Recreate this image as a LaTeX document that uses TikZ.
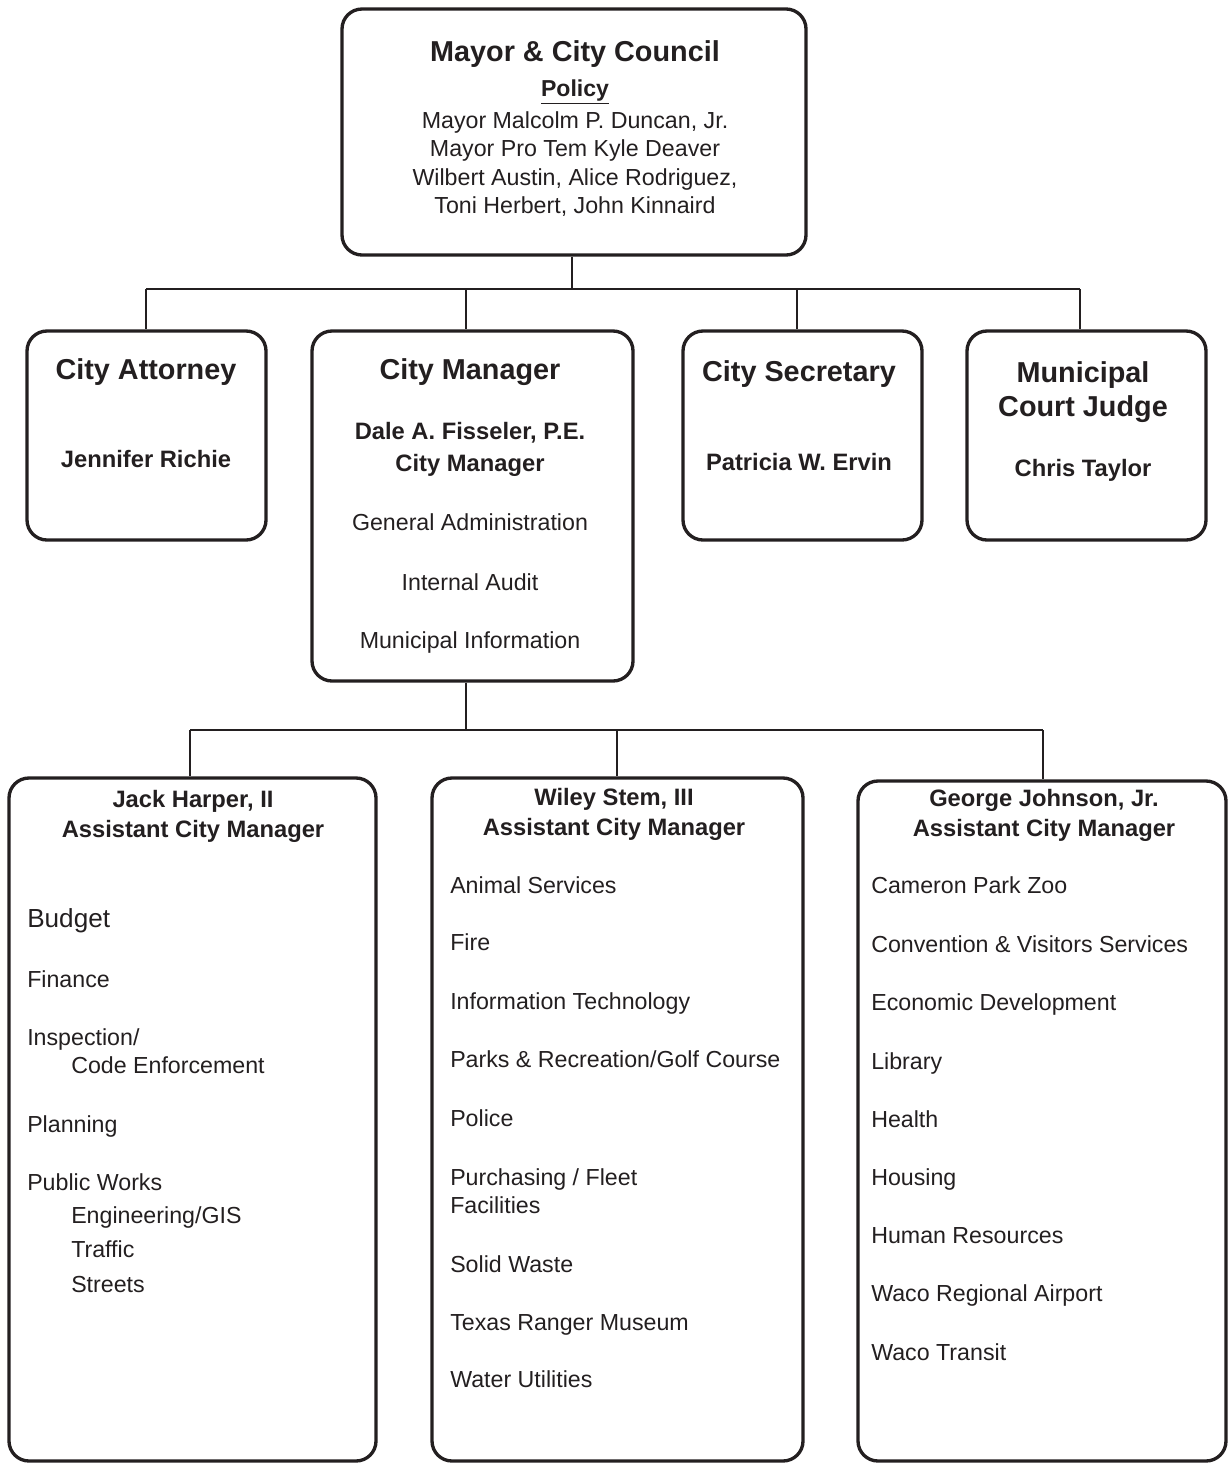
\documentclass[tikz,border=0pt]{standalone}
\usepackage{fontspec}
\setmainfont{Liberation Sans}
\usetikzlibrary{fit}
\definecolor{ink}{RGB}{35,31,32}
\tikzset{
unitbox/.style={draw=ink, line width=2.5pt, rounded corners=15pt, inner sep=0pt},
link/.style={draw=ink, line width=1.6pt},
headtxt/.style={font=\fontsize{21.6}{26}\selectfont\bfseries, text=ink, anchor=base, inner sep=0pt},
nametxt/.style={font=\fontsize{17.8}{21}\selectfont\bfseries, text=ink, anchor=base, inner sep=0pt},
bodytxt/.style={font=\fontsize{17.4}{21}\selectfont, text=ink, anchor=base, inner sep=0pt},
itemtxt/.style={bodytxt, anchor=base west}}

\begin{document}
\begin{tikzpicture}[x=0.75pt,y=0.75pt,yscale=-1,xscale=1]
\useasboundingbox (0,0) rectangle (1228,1463);

%Shape: Rounded Rect [council]
\node[unitbox, fit={(342,9) (806,255)}] (council) {};
%Shape: Rounded Rect [attorney]
\node[unitbox, fit={(27,331) (266,540)}] (attorney) {};
%Shape: Rounded Rect [manager]
\node[unitbox, fit={(312,331) (633,681)}] (manager) {};
%Shape: Rounded Rect [secretary]
\node[unitbox, fit={(683,331) (922,540)}] (secretary) {};
%Shape: Rounded Rect [judge]
\node[unitbox, fit={(967,331) (1206,540)}] (judge) {};
%Shape: Rounded Rect [harper]
\node[unitbox, fit={(9,778) (376,1461)}] (harper) {};
%Shape: Rounded Rect [stem]
\node[unitbox, fit={(432,778) (803,1461)}] (stem) {};
%Shape: Rounded Rect [johnson]
\node[unitbox, fit={(858,781) (1226,1461)}] (johnson) {};

%Straight Lines: council to first row
\coordinate (busTop) at (572,289);
\coordinate (tAtt) at (146,289);
\coordinate (tMan) at (466,289);
\coordinate (tSec) at (797,289);
\coordinate (tJud) at (1080,289);
\draw[link] (council.south -| busTop) -- (busTop);
\draw[link] (tAtt) -- (tJud);
\draw[link] (tAtt) -- (tAtt |- attorney.north);
\draw[link] (tMan) -- (tMan |- manager.north);
\draw[link] (tSec) -- (tSec |- secretary.north);
\draw[link] (tJud) -- (tJud |- judge.north);

%Straight Lines: manager to assistants
\coordinate (busLow) at (466,730);
\coordinate (tHar) at (190,730);
\coordinate (tSte) at (617,730);
\coordinate (tJoh) at (1043,730);
\draw[link] (manager.south -| busLow) -- (busLow);
\draw[link] (tHar) -- (tJoh);
\draw[link] (tHar) -- (tHar |- harper.north);
\draw[link] (tSte) -- (tSte |- stem.north);
\draw[link] (tJoh) -- (tJoh |- johnson.north);

% Text Node
\node[headtxt] (councilHead) at (575,62) {Mayor \& City Council};
\node[bodytxt, font=\fontsize{17.3}{21}\selectfont\bfseries] (councilPolicy) at (575,96.5) {\underline{Policy}};
\node[bodytxt] (councilA) at (575,128.3) {Mayor Malcolm P. Duncan, Jr.};
\node[bodytxt] (councilB) at (575,156.8) {Mayor Pro Tem Kyle Deaver};
\node[bodytxt] (councilC) at (575,185.2) {Wilbert Austin, Alice Rodriguez,};
\node[bodytxt] (councilD) at (575,213.6) {Toni Herbert, John Kinnaird};

% Text Node
\node[headtxt] (attorneyHead) at (146,379.3) {City Attorney};
\node[nametxt] (attorneyName) at (146,467) {Jennifer Richie};

% Text Node
\node[headtxt] (managerHead) at (470,379.3) {City Manager};
\node[nametxt] (managerName) at (470,439) {Dale A. Fisseler, P.E.};
\node[nametxt] (managerRole) at (470,471.7) {City Manager};
\node[bodytxt] (managerA) at (470,530.7) {General Administration};
\node[bodytxt] (managerB) at (470,590) {Internal Audit};
\node[bodytxt] (managerC) at (470,648.3) {Municipal Information};

% Text Node
\node[headtxt] (secretaryHead) at (799,381.7) {City Secretary};
\node[nametxt] (secretaryName) at (799,470) {Patricia W. Ervin};

% Text Node
\node[headtxt] (judgeHeadA) at (1083,382.7) {Municipal};
\node[headtxt] (judgeHeadB) at (1083,416) {Court Judge};
\node[nametxt] (judgeName) at (1083,476) {Chris Taylor};

% Text Node
\node[nametxt] (harperName) at (193,807.7) {Jack Harper, II};
\node[nametxt] (harperRole) at (193,837.3) {Assistant City Manager};
\node[itemtxt, font=\fontsize{19.6}{23}\selectfont] (harperA) at (27,927) {Budget};
\node[itemtxt] (harperB) at (27,987) {Finance};
\node[itemtxt] (harperC) at (27,1045) {Inspection/};
\node[itemtxt] (harperD) at (71,1073.5) {Code Enforcement};
\node[itemtxt] (harperE) at (27,1132.3) {Planning};
\node[itemtxt] (harperF) at (27,1190.5) {Public Works};
\node[itemtxt] (harperG) at (71,1223.5) {Engineering/GIS};
\node[itemtxt] (harperH) at (71,1257.5) {Traffic};
\node[itemtxt] (harperI) at (71,1292) {Streets};

% Text Node
\node[nametxt] (stemName) at (614,805.6) {Wiley Stem, III};
\node[nametxt] (stemRole) at (614,835.6) {Assistant City Manager};
\node[itemtxt] (stemA) at (450,893.4) {Animal Services};
\node[itemtxt] (stemB) at (450,950.4) {Fire};
\node[itemtxt] (stemC) at (450,1009.4) {Information Technology};
\node[itemtxt] (stemD) at (450,1067.4) {Parks \& Recreation/Golf Course};
\node[itemtxt] (stemE) at (450,1126.4) {Police};
\node[itemtxt] (stemF) at (450,1185.4) {Purchasing / Fleet};
\node[itemtxt] (stemG) at (450,1213.4) {Facilities};
\node[itemtxt] (stemH) at (450,1272.4) {Solid Waste};
\node[itemtxt] (stemI) at (450,1330.4) {Texas Ranger Museum};
\node[itemtxt] (stemJ) at (450,1387.4) {Water Utilities};

% Text Node
\node[nametxt] (johnsonName) at (1044,806.6) {George Johnson, Jr.};
\node[nametxt] (johnsonRole) at (1044,836.6) {Assistant City Manager};
\node[itemtxt] (johnsonA) at (871,893.4) {Cameron Park Zoo};
\node[itemtxt] (johnsonB) at (871,952.4) {Convention \& Visitors Services};
\node[itemtxt] (johnsonC) at (871,1010.4) {Economic Development};
\node[itemtxt] (johnsonD) at (871,1069.4) {Library};
\node[itemtxt] (johnsonE) at (871,1127.4) {Health};
\node[itemtxt] (johnsonF) at (871,1185.4) {Housing};
\node[itemtxt] (johnsonG) at (871,1243.4) {Human Resources};
\node[itemtxt] (johnsonH) at (871,1301.4) {Waco Regional Airport};
\node[itemtxt] (johnsonI) at (871,1360.4) {Waco Transit};

\end{tikzpicture}
\end{document}
